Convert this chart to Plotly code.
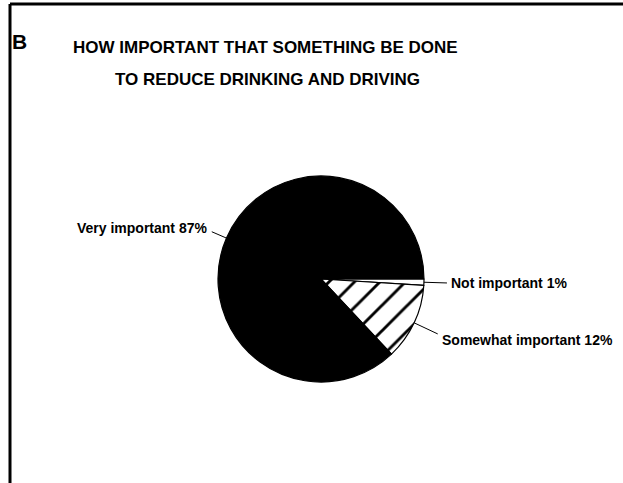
import math
import plotly.graph_objects as go

# ---- data ----
categories = ["Not important", "Somewhat important", "Very important"]
values = [1, 12, 87]
title_lines = ["HOW IMPORTANT THAT SOMETHING BE DONE", "TO REDUCE DRINKING AND DRIVING"]
panel_letter = "B"

# ---- layout constants (pixels) ----
W, H = 623, 483
CX, CY, R = 321, 279, 103          # pie centre (from top-left) and radius

fills = ["white", "white", "black"]
patterns = ["", "/", ""]
# leader length, text dx, text dy, anchor  (styling per label)
label_style = [
    (23, 2, 0, "left"),
    (26, 2, 6, "left"),
    (16, -3, -4, "right"),
]

def px2paper(x, y):
    return x / W, 1 - y / H

fig = go.Figure()
fig.add_trace(go.Pie(
    labels=categories,
    values=values,
    sort=False,
    direction="clockwise",
    rotation=90,
    textinfo="none",
    hoverinfo="label+percent",
    showlegend=False,
    marker=dict(
        colors=fills,
        line=dict(color="black", width=1.2),
        pattern=dict(shape=patterns, fgcolor="black", bgcolor="white", fgopacity=1,
                     size=18, solidity=0.16, fillmode="overlay"),
    ),
    domain=dict(x=[(CX - R) / W, (CX + R) / W],
                y=[(H - CY - R) / H, (H - CY + R) / H]),
))

shapes = []
annotations = []
total = sum(values)
start = 0.0  # degrees, math convention, starting at 3 o'clock going clockwise
for cat, v, (L, dx, dy, anchor) in zip(categories, values, label_style):
    sweep = 360.0 * v / total
    mid = start - sweep / 2
    start -= sweep
    a = math.radians(mid)
    ex, ey = CX + R * math.cos(a), CY - R * math.sin(a)
    lx, ly = CX + (R + L) * math.cos(a), CY - (R + L) * math.sin(a)
    x0, y0 = px2paper(ex, ey)
    x1, y1 = px2paper(lx, ly)
    shapes.append(dict(type="line", xref="paper", yref="paper",
                       x0=x0, y0=y0, x1=x1, y1=y1,
                       line=dict(color="black", width=1)))
    tx, ty = px2paper(lx + dx, ly + dy)
    annotations.append(dict(
        x=tx, y=ty, xref="paper", yref="paper", showarrow=False,
        xanchor=anchor, yanchor="middle",
        text=f"{cat} {round(100 * v / total)}%",
        font=dict(family="Liberation Sans, Arial", size=14, color="black", weight="bold"),
    ))

# title lines
for line, (cx, cy) in zip(title_lines, [(265, 47), (267, 80)]):
    x, y = px2paper(cx, cy)
    annotations.append(dict(x=x, y=y, xref="paper", yref="paper", showarrow=False,
                            xanchor="center", yanchor="middle", text=line,
                            font=dict(family="Liberation Sans, Arial", size=17,
                                      color="black", weight="bold")))
x, y = px2paper(20, 42)
annotations.append(dict(x=x, y=y, xref="paper", yref="paper", showarrow=False,
                        xanchor="center", yanchor="middle", text=panel_letter,
                        font=dict(family="Liberation Sans, Arial", size=21, color="black", weight="bold")))

# frame (left and top edges)
lx0, ly0 = px2paper(10, 4)
shapes.append(dict(type="line", xref="paper", yref="paper", x0=lx0, y0=ly0, x1=lx0, y1=0,
                   line=dict(color="black", width=3)))
shapes.append(dict(type="line", xref="paper", yref="paper", x0=lx0, y0=ly0, x1=1.05, y1=ly0,
                   line=dict(color="black", width=3)))

fig.update_layout(
    width=W, height=H,
    margin=dict(l=0, r=0, t=0, b=0),
    paper_bgcolor="white", plot_bgcolor="white",
    shapes=shapes, annotations=annotations,
)
fig.write_html("out.html", config={"displayModeBar": False},
               post_script="document.body.style.margin='0';document.body.style.overflow='hidden';")
